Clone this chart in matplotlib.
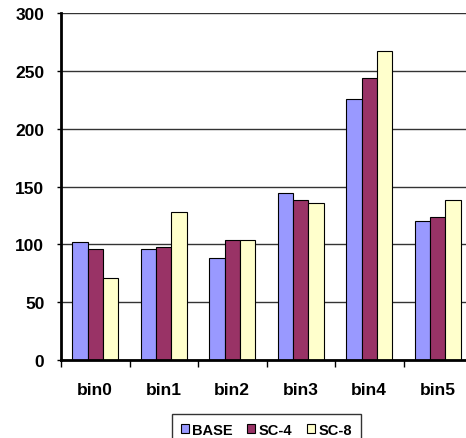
import matplotlib
matplotlib.use("Agg")
import matplotlib.pyplot as plt
import numpy as np

categories = ["bin0", "bin1", "bin2", "bin3", "bin4", "bin5"]
series_names = ["BASE", "SC-4", "SC-8"]
base = [102, 96, 88, 144, 226, 120]
sc4 = [96, 98, 104, 138, 244, 124]
sc8 = [71, 128, 104, 136, 267, 138]
colors = ["#9999FF", "#993366", "#FFFFCC"]

plt.rcParams["font.family"] = ["Liberation Sans", "DejaVu Sans"]
plt.rcParams["font.weight"] = "bold"

W, H = 466, 439
fig = plt.figure(figsize=(W / 100, H / 100), dpi=100)
ax = fig.add_axes([61 / W, 78 / H, (472 - 61) / W, (361 - 14) / H])

x = np.arange(len(categories))
bw = 1 / 4.5  # Excel gap width 150%
for i, (vals, name) in enumerate(zip([base, sc4, sc8], series_names)):
    ax.bar(x + (i - 1) * bw, vals, width=bw, color=colors[i],
           edgecolor="black", linewidth=0.8, label=name, zorder=3)

ax.set_xlim(-0.5, len(categories) - 0.5)
ax.set_ylim(0, 300)
ax.set_yticks(np.arange(0, 301, 50))
ax.yaxis.grid(True, color="#333333", linewidth=1.0, zorder=0)
ax.tick_params(axis="y", length=3, width=1, pad=9, labelsize=12.5)

# category ticks at the boundaries, labels at the centres
ax.set_xticks(np.arange(-0.5, len(categories) - 0.4, 1))
ax.set_xticklabels([])
ax.set_xticks(x, minor=True)
ax.set_xticklabels(categories, minor=True, fontsize=12.5, fontweight="bold")
ax.tick_params(axis="x", which="major", length=5, width=1)
ax.tick_params(axis="x", which="minor", length=0, pad=16)

for s in ["top", "right"]:
    ax.spines[s].set_visible(False)
ax.spines["left"].set_linewidth(2)
ax.spines["bottom"].set_linewidth(2)
ax.spines["left"].set_zorder(4)
ax.spines["bottom"].set_zorder(4)

leg = fig.legend(loc="upper center", bbox_to_anchor=(266.5 / W, 1 - 408 / H),
                 ncol=3, frameon=True, fancybox=False, edgecolor="black",
                 fontsize=10.5, handlelength=0.55, handleheight=0.55,
                 handletextpad=0.25, columnspacing=1.0, borderpad=0.6)
leg.get_frame().set_linewidth(1)
for t in leg.get_texts():
    t.set_fontweight("bold")

fig.savefig("out.png", dpi=100)
